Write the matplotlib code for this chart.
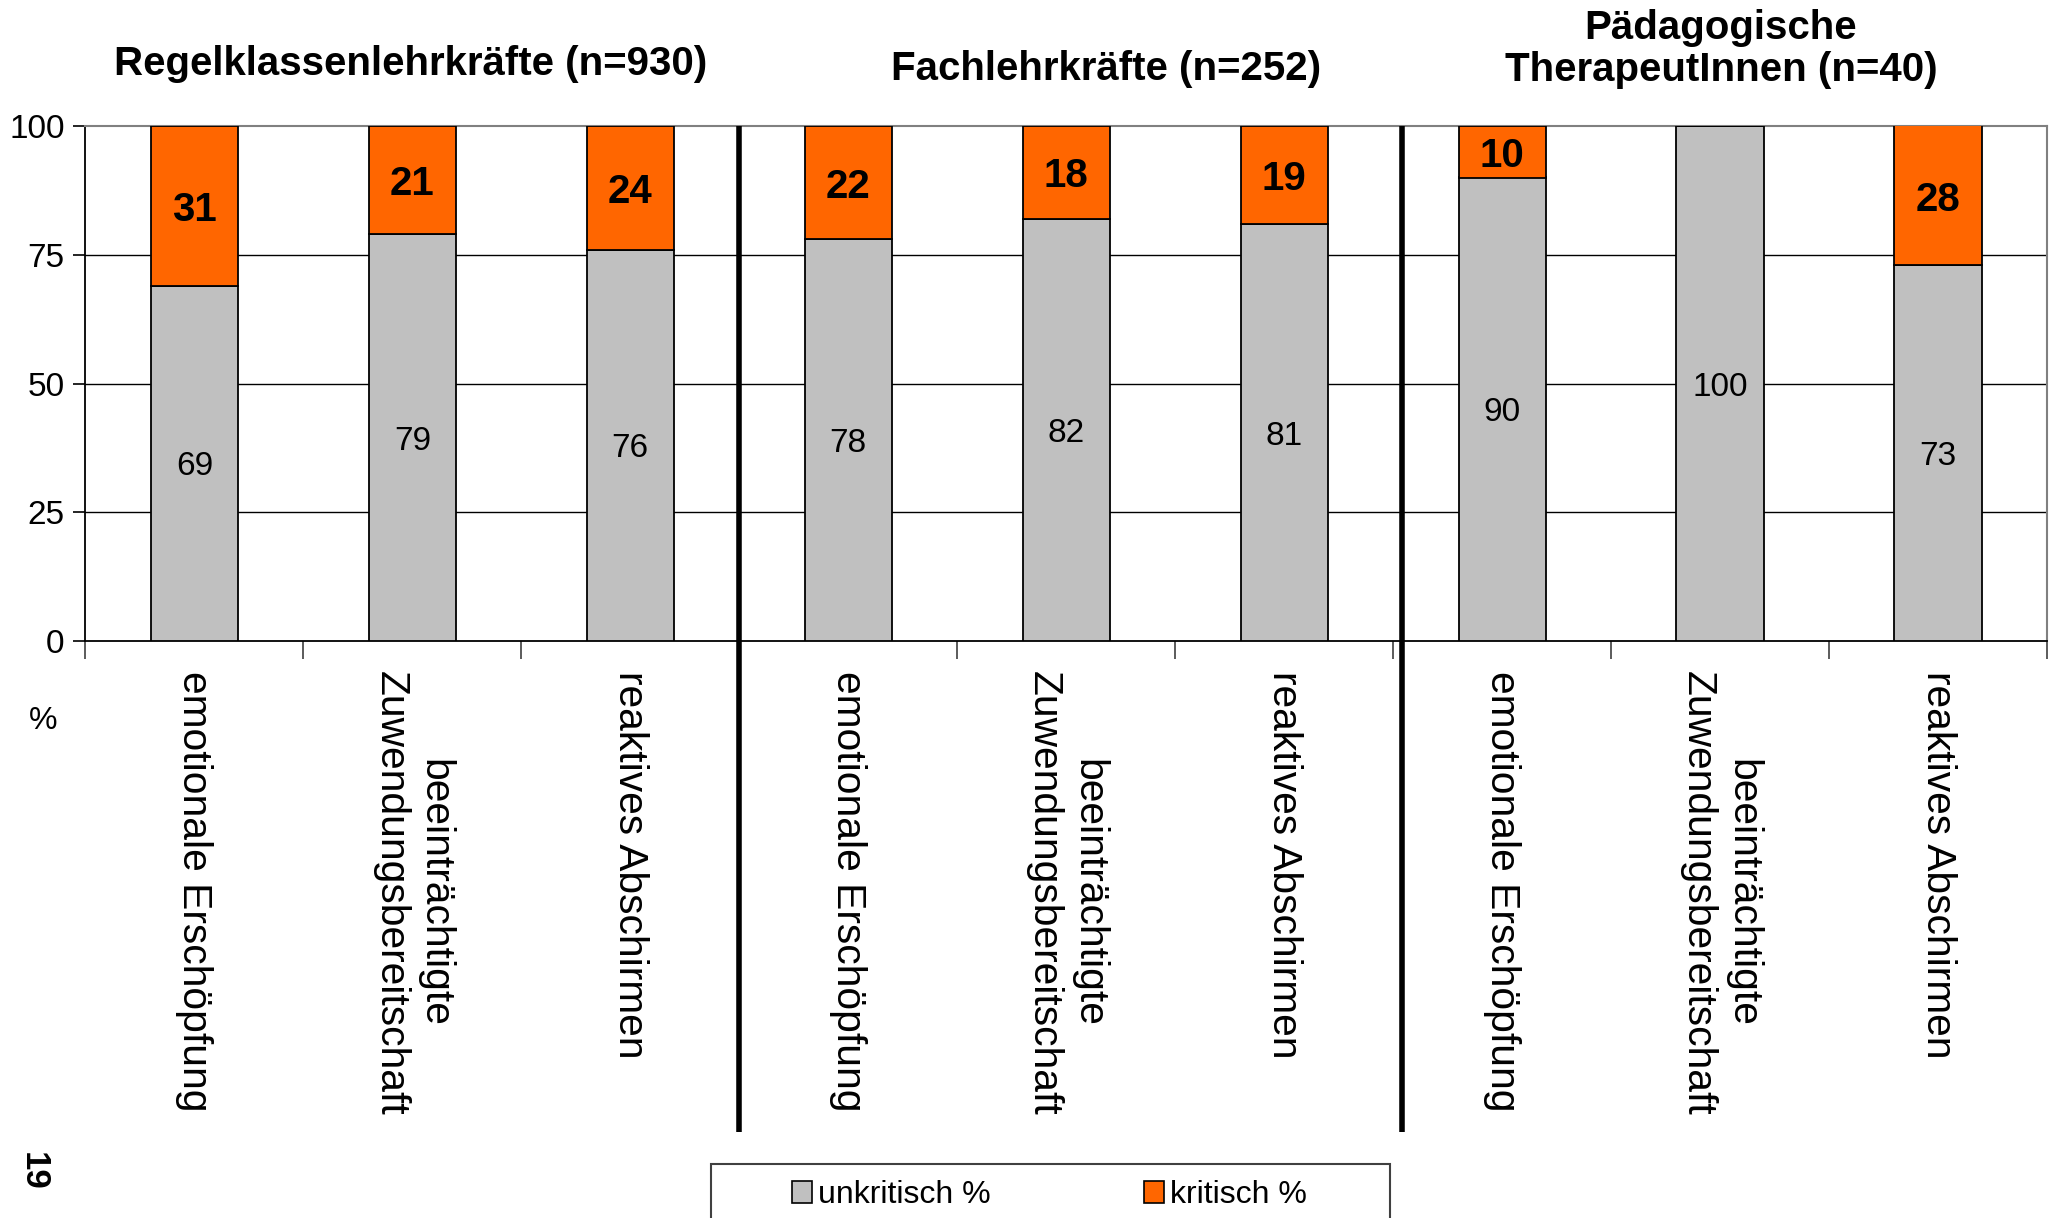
import matplotlib
matplotlib.use("Agg")
import matplotlib.pyplot as plt
from matplotlib.patches import Patch, Rectangle
from matplotlib.ticker import FixedLocator
import numpy as np

plt.rcParams['font.family'] = ['Liberation Sans', 'DejaVu Sans']

categories = ["emotionale Erschöpfung", "beeinträchtigte\nZuwendungsbereitschaft", "reaktives Abschirmen"] * 3
unkritisch = [69, 79, 76, 78, 82, 81, 90, 100, 73]
kritisch = [31, 21, 24, 22, 18, 19, 10, 0, 28]
group_titles = ["Regelklassenlehrkräfte (n=930)", "Fachlehrkräfte (n=252)", "Pädagogische\nTherapeutInnen (n=40)"]
series_names = ["unkritisch %", "kritisch %"]
yticks = [0, 25, 50, 75, 100]

GRAY = "#C0C0C0"
ORANGE = "#FF6600"

W, H = 2060, 1218
fig = plt.figure(figsize=(W / 100, H / 100), dpi=100)
ax = fig.add_axes([85.4 / W, 1 - 641 / H, (2047 - 85.4) / W, (641 - 126) / H])

x = np.arange(len(categories))
bw = 0.40
ax.bar(x, unkritisch, bw, color=GRAY, edgecolor="black", linewidth=1.3, zorder=3)
ax.bar(x, kritisch, bw, bottom=unkritisch, color=ORANGE, edgecolor="black", linewidth=1.3, zorder=3)

for xi, u, k in zip(x, unkritisch, kritisch):
    ax.text(xi, u / 2 - 0.7, f"{u}", ha="center", va="center", fontsize=24, zorder=4)
    if k > 0:
        top = min(u + k, 100)
        ax.text(xi, (u + top) / 2 - 0.8, f"{k}", ha="center", va="center", fontsize=29,
                fontweight="bold", zorder=4)

ax.set_xlim(-0.5, len(categories) - 0.5)
ax.set_ylim(0, 100)
ax.set_yticks(yticks)
ax.tick_params(axis="y", labelsize=24, length=9, width=1.2, pad=6, color="black")
for yv in yticks[1:-1]:
    ax.axhline(yv, color="black", linewidth=1.0, zorder=1)

ax.set_xticks(x)
ax.set_xticklabels(categories, rotation=-90, fontsize=29.3, va="top", ha="center",
                   multialignment="center")
ax.tick_params(axis="x", which="major", length=0, pad=21.5)
ax.xaxis.set_minor_locator(FixedLocator(np.arange(-0.5, len(categories), 1.0)))
ax.tick_params(axis="x", which="minor", length=13, width=1.2, color="#404040")

for s in ["top", "right"]:
    ax.spines[s].set_color("#808080")
    ax.spines[s].set_linewidth(1.5)
for s in ["left", "bottom"]:
    ax.spines[s].set_color("black")
    ax.spines[s].set_linewidth(1.3)

# group separators
for sx in [2.5, 5.54]:
    ax.plot([sx, sx], [1.0, -0.954], transform=ax.get_xaxis_transform(), color="black",
            linewidth=4, clip_on=False, zorder=5, solid_capstyle="butt")

# group titles
fig.text(411 / W, 1 - 64 / H, group_titles[0], ha="center", va="center", fontsize=29, fontweight="bold")
fig.text(1106 / W, 1 - 69 / H, group_titles[1], ha="center", va="center", fontsize=29, fontweight="bold")
fig.text(1721 / W, 1 - 49 / H, group_titles[2], ha="center", va="center", fontsize=29,
         fontweight="bold", linespacing=1.12)

fig.text(43 / W, 1 - 721 / H, "%", ha="center", va="center", fontsize=23)
fig.text(33 / W, 1 - 1171 / H, "19", ha="center", va="center", fontsize=25, fontweight="bold", rotation=-90)

# legend
handles = [Patch(facecolor=GRAY, edgecolor="black", linewidth=1.2),
           Patch(facecolor=ORANGE, edgecolor="black", linewidth=1.2)]
fig.legend(handles, series_names, loc="center left", bbox_to_anchor=(792 / W, 1 - 1195 / H),
           ncol=2, frameon=False, fontsize=23, handlelength=0.62, handleheight=0.7,
           handletextpad=0.2, columnspacing=4.8, borderpad=0, borderaxespad=0)
fig.add_artist(Rectangle((711 / W, -0.05), (1390 - 711) / W, 0.05 + (1218 - 1164) / H,
                         transform=fig.transFigure, fill=False, edgecolor="#404040", linewidth=1.5))

fig.savefig("out.png", dpi=100)
